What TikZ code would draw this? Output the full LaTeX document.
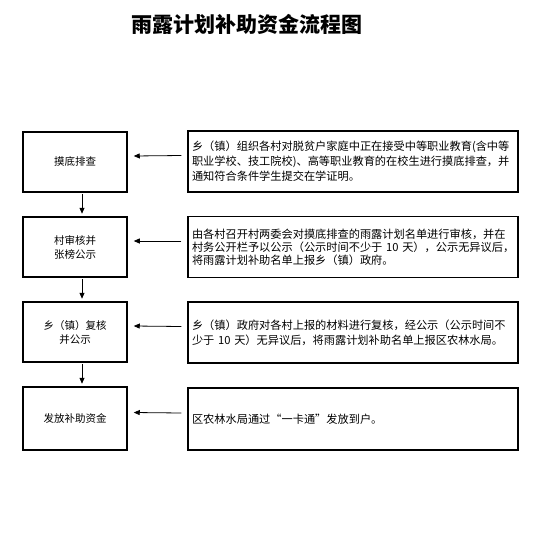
\documentclass[tikz,border=0pt]{standalone}
\usepackage{fontspec}
\newfontfamily\cjk{Noto Sans CJK SC}
\usetikzlibrary{arrows.meta}
\begin{document}
\begin{tikzpicture}[x=1pt,y=-1pt,
  leftbox/.style={draw,line width=1.5pt,minimum width=104pt,minimum height=60pt,inner sep=0pt,align=center,
    font=\cjk\fontsize{10.5}{14}\selectfont},
  rightbox/.style={draw,line width=1.5pt,minimum width=330pt,minimum height=61pt,inner xsep=4pt,inner ysep=0pt,
    text width=322pt,align=left},
  arr/.style={line width=0.8pt,-{Triangle[length=6pt,width=5pt]}}]
\useasboundingbox[fill=white] (0,0) rectangle (551,533);
\node (title) at (247,24) {\cjk\bfseries\fontsize{21}{24}\selectfont 雨露计划补助资金流程图};

\node[leftbox] (l1) at (75,162) {摸底排查};
\node[leftbox] (l2) at (75,247) {村审核并\\张榜公示};
\node[leftbox] (l3) at (75,332) {乡（镇）复核\\并公示};
\node[leftbox,minimum height=63pt] (l4) at (75,418.5) {发放补助资金};

\node[rightbox,font=\cjk\fontsize{11.2}{15}\selectfont] (r1) at (353,161.5) {乡（镇）组织各村对脱贫户家庭中正在接受中等职业教育(含中等\\职业学校、技工院校)、高等职业教育的在校生进行摸底排查，并\\通知符合条件学生提交在学证明。};
\node[rightbox,font=\cjk\fontsize{11.2}{13}\selectfont] (r2) at (353,247) {由各村召开村两委会对摸底排查的雨露计划名单进行审核，并在\\村务公开栏予以公示（公示时间不少于~10~天），公示无异议后，\\将雨露计划补助名单上报乡（镇）政府。};
\node[rightbox,font=\cjk\fontsize{11.2}{15}\selectfont] (r3) at (353,332.5) {乡（镇）政府对各村上报的材料进行复核，经公示（公示时间不\\少于~10~天）无异议后，将雨露计划补助名单上报区农林水局。};
\node[rightbox,font=\cjk\fontsize{11.2}{15}\selectfont,minimum height=62pt] (r4) at (353,419) {区农林水局通过“一卡通”发放到户。};

\foreach \i in {1,2,3,4}{
  \draw[arr] ([xshift=-6pt,yshift=6pt]r\i.west) -- ([xshift=6pt,yshift=6pt]l\i.east);
}
\draw[arr] ([xshift=7pt,yshift=-1pt]l1.south) -- ([xshift=7pt,yshift=2.5pt]l2.north);
\draw[arr] ([xshift=7pt,yshift=-1pt]l2.south) -- ([xshift=7pt,yshift=2.5pt]l3.north);
\draw[arr] ([xshift=7pt,yshift=-1pt]l3.south) -- ([xshift=7pt,yshift=2.5pt]l4.north);
\end{tikzpicture}
\end{document}
